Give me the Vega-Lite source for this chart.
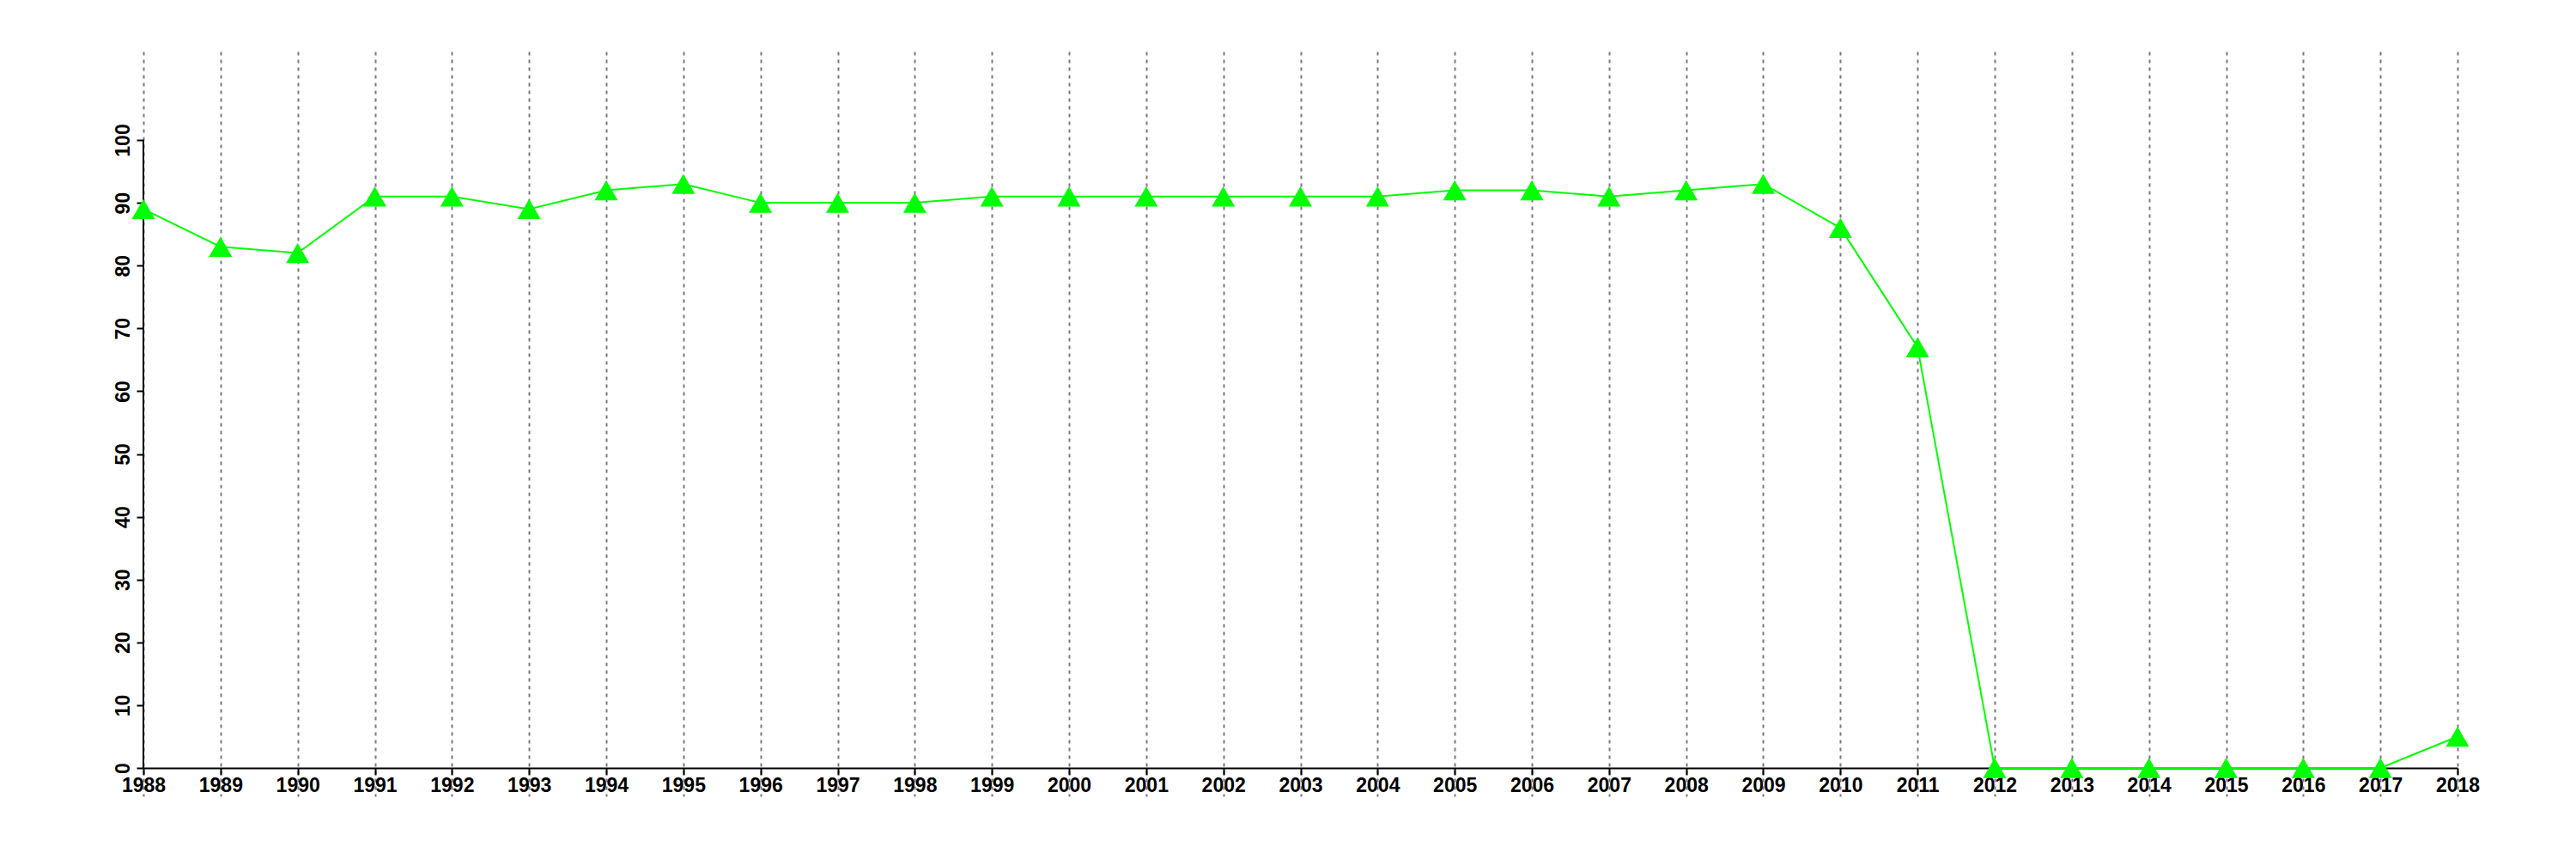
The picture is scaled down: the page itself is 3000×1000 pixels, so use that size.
{
  "$schema": "https://vega.github.io/schema/vega-lite/v6.json",
  "autosize": "none",
  "width": 2695,
  "height": 867,
  "padding": {"left": 167, "top": 60, "right": 138, "bottom": 73},
  "background": "white",
  "config": {
    "view": {"stroke": null},
    "axis": {"labelFont": "Liberation Sans", "labelFontWeight": "bold", "labelFontSize": 23, "labelColor": "black", "tickColor": "black", "tickWidth": 2, "tickSize": 8, "domainColor": "black", "domainWidth": 2}
  },
  "data": {
    "values": [
      {"year": 1988, "value": 89}, {"year": 1989, "value": 83}, {"year": 1990, "value": 82},
      {"year": 1991, "value": 91}, {"year": 1992, "value": 91}, {"year": 1993, "value": 89},
      {"year": 1994, "value": 92}, {"year": 1995, "value": 93}, {"year": 1996, "value": 90},
      {"year": 1997, "value": 90}, {"year": 1998, "value": 90}, {"year": 1999, "value": 91},
      {"year": 2000, "value": 91}, {"year": 2001, "value": 91}, {"year": 2002, "value": 91},
      {"year": 2003, "value": 91}, {"year": 2004, "value": 91}, {"year": 2005, "value": 92},
      {"year": 2006, "value": 92}, {"year": 2007, "value": 91}, {"year": 2008, "value": 92},
      {"year": 2009, "value": 93}, {"year": 2010, "value": 86}, {"year": 2011, "value": 67},
      {"year": 2012, "value": 0}, {"year": 2013, "value": 0}, {"year": 2014, "value": 0},
      {"year": 2015, "value": 0}, {"year": 2016, "value": 0}, {"year": 2017, "value": 0},
      {"year": 2018, "value": 5}
    ]
  },
  "encoding": {
    "x": {
      "field": "year", "type": "quantitative",
      "scale": {"domain": [1988, 2018], "nice": false, "zero": false},
      "axis": {
        "title": null, "values": [1988,1989,1990,1991,1992,1993,1994,1995,1996,1997,1998,1999,2000,2001,2002,2003,2004,2005,2006,2007,2008,2009,2010,2011,2012,2013,2014,2015,2016,2017,2018],
        "format": "d", "labelFlush": false, "offset": -33, "labelPadding": 1,
        "grid": true, "gridColor": "#7a7a7a", "gridDash": [4, 5], "gridWidth": 2
      }
    },
    "y": {
      "field": "value", "type": "quantitative",
      "scale": {"domain": [-4.51, 114.09], "nice": false, "zero": false},
      "axis": {
        "title": null, "values": [0,10,20,30,40,50,60,70,80,90,100],
        "grid": false, "domain": false, "labelAngle": 270, "labelAlign": "center", "labelBaseline": "bottom", "labelPadding": 4
      }
    }
  },
  "layer": [
    {
      "mark": {"type": "rule", "color": "black", "strokeWidth": 2},
      "encoding": {"x": {"datum": 1988}, "y": {"datum": 0}, "y2": {"datum": 100}}
    },
    {"mark": {"type": "line", "color": "#00ff00", "strokeWidth": 2}},
    {"mark": {"type": "point", "shape": "triangle-up", "filled": true, "color": "#00ff00", "opacity": 1, "size": 730}}
  ]
}
